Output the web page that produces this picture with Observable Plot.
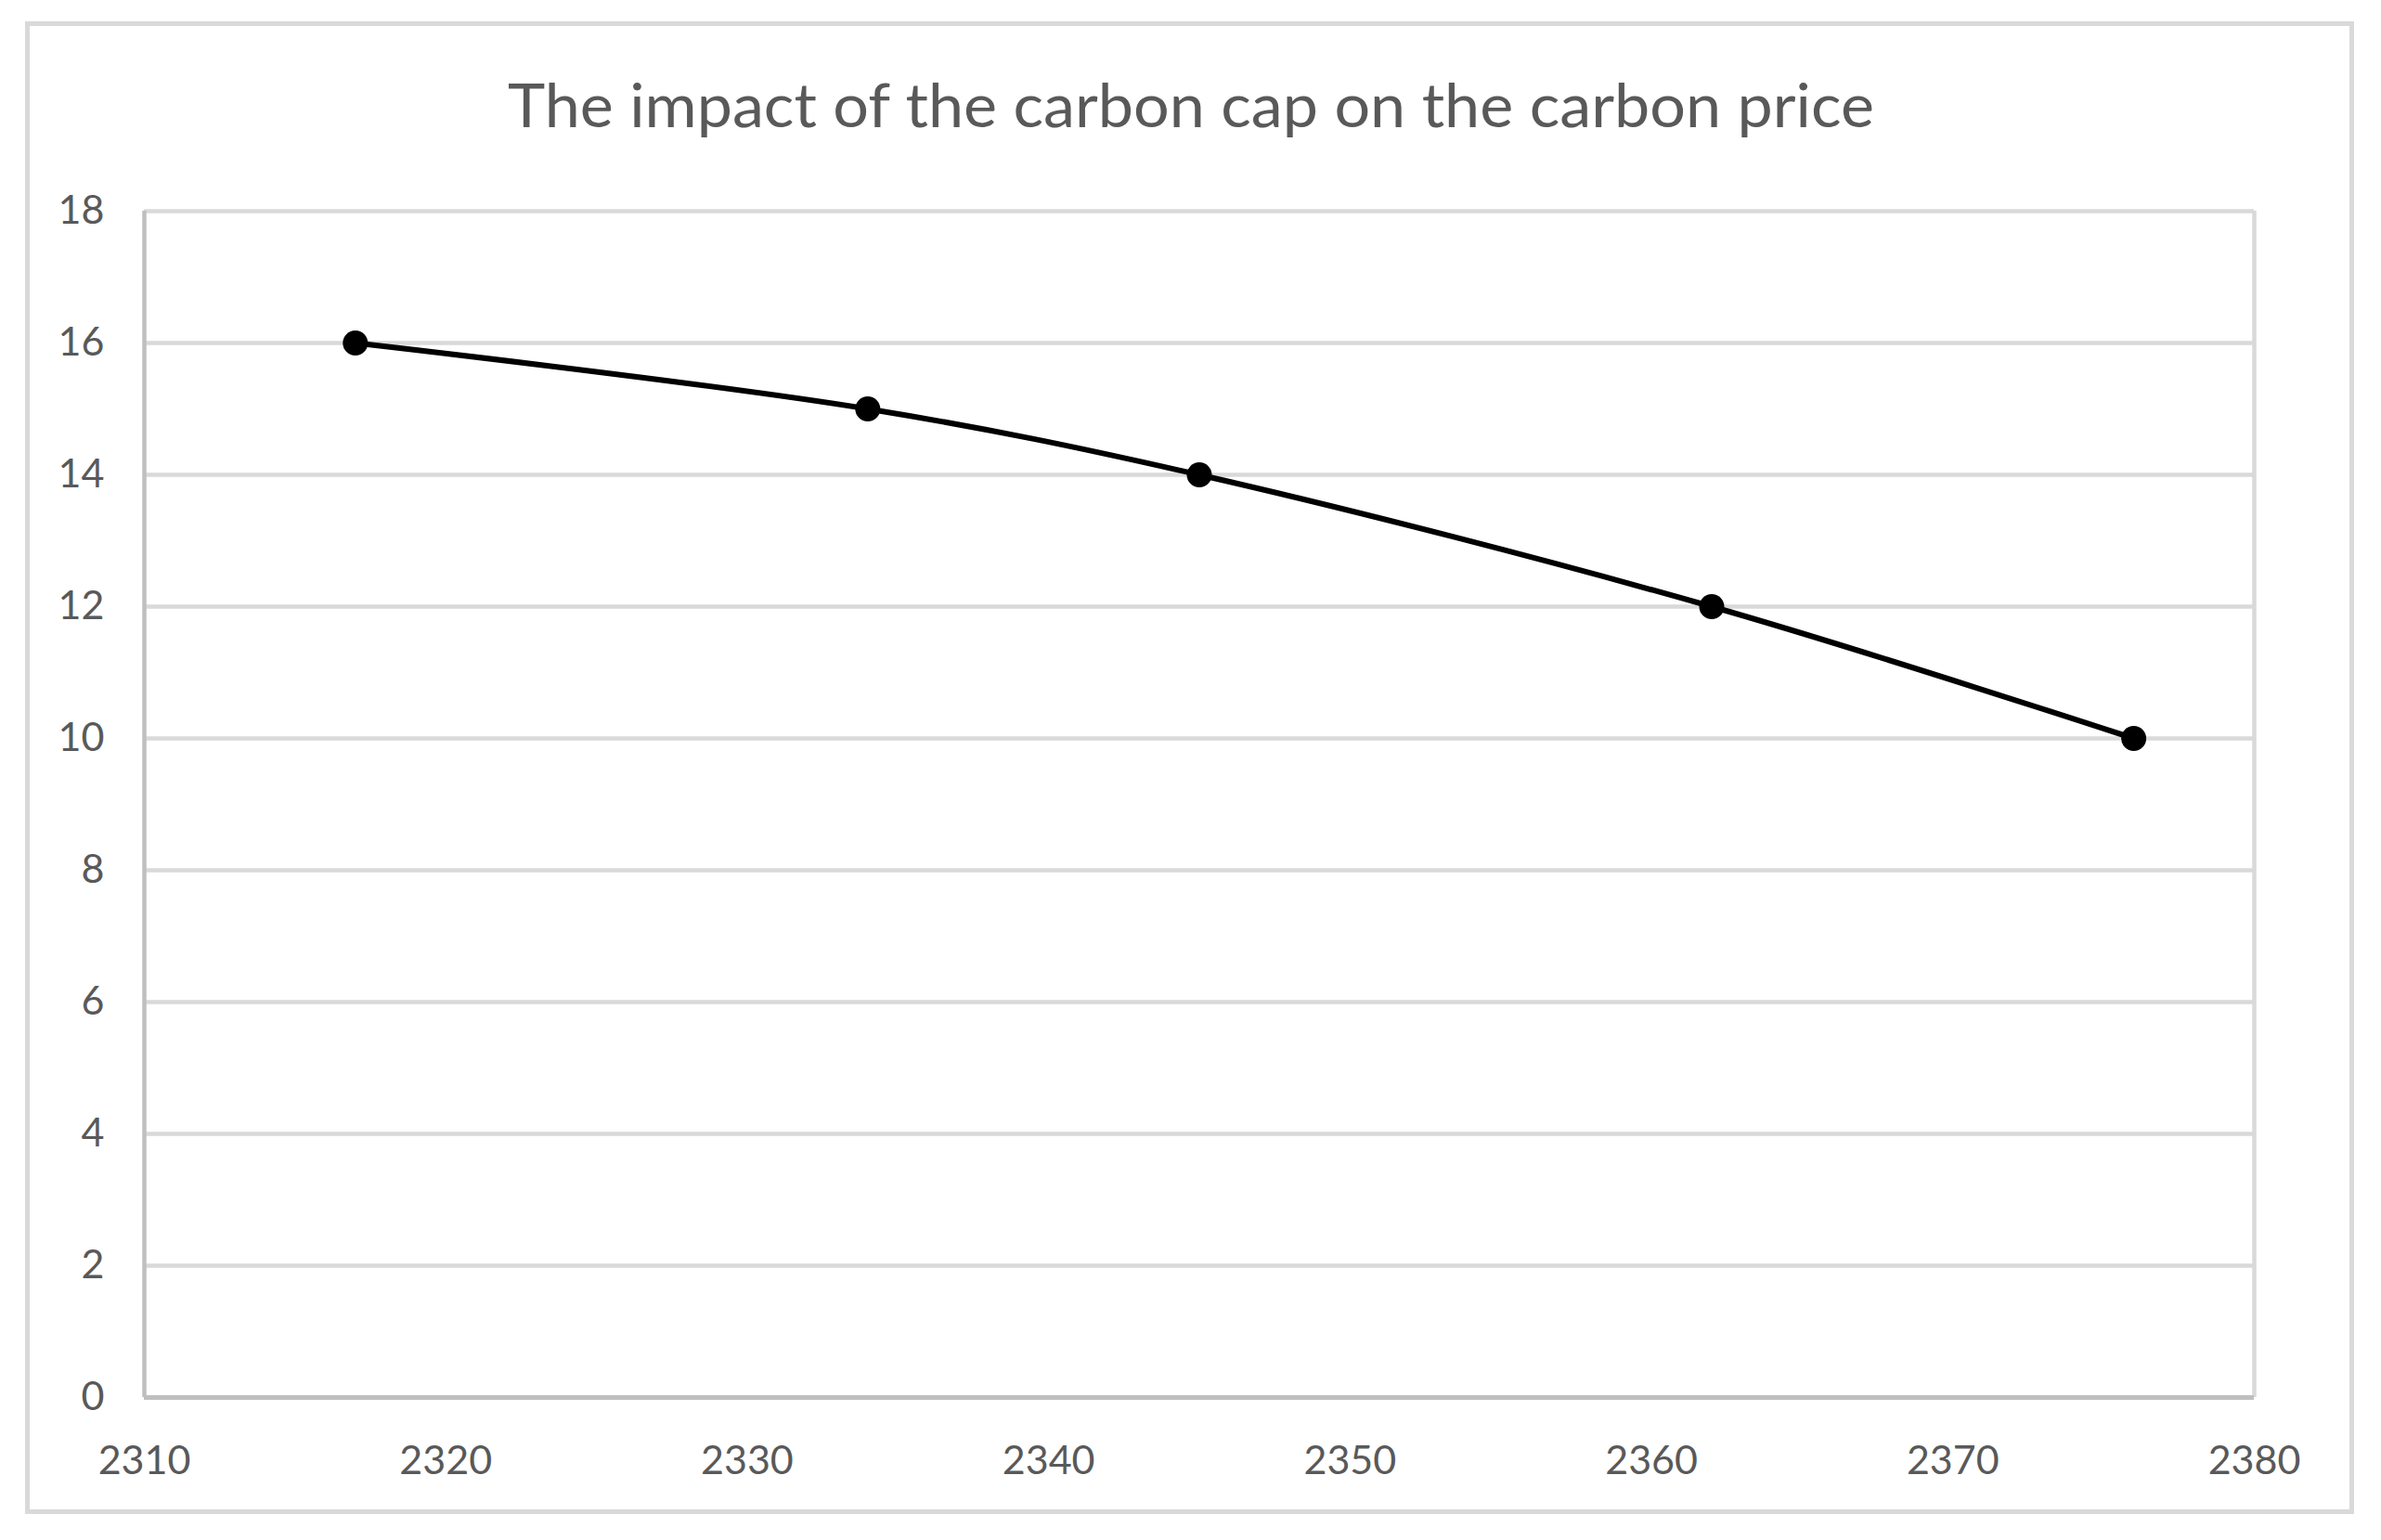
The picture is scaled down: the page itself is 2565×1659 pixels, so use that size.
<!DOCTYPE html>
<html>
<head>
<meta charset="utf-8">
<script src="https://cdn.jsdelivr.net/npm/d3@7"></script>
<script src="https://cdn.jsdelivr.net/npm/@observablehq/plot@0.6"></script>
<style>
  html, body { margin: 0; padding: 0; background: #ffffff; }
  #page { position: relative; width: 2565px; height: 1659px; background: #ffffff; overflow: hidden; }
  #border { position: absolute; left: 26.5px; top: 22.5px; width: 2509px; height: 1608px; box-sizing: border-box; border: 5px solid #d9d9d9; }
  #title { position: absolute; left: 0; width: 2565px; top: 79px; text-align: center; font-family: Lato, "Open Sans", sans-serif; font-weight: 400; font-size: 66px; line-height: 66px; color: #595959; white-space: nowrap; }
  #title span { display: inline-block; transform-origin: center center; }
  #chart { position: absolute; left: 0; top: 0; }
</style>
</head>
<body>
<div id="page">
  <div id="border"></div>
  <div id="title"><span id="titleText"></span></div>
  <div id="chart"></div>
</div>
<script>
const titleText = "The impact of the carbon cap on the carbon price";
const carbonCap = [2317, 2334, 2345, 2362, 2376];
const carbonPrice = [16, 15, 14, 12, 10];
const xTicks = [2310, 2320, 2330, 2340, 2350, 2360, 2370, 2380];
const yTicks = [0, 2, 4, 6, 8, 10, 12, 14, 16, 18];

const data = carbonCap.map((c, i) => ({cap: c, price: carbonPrice[i]}));

const t = document.getElementById("titleText");
t.textContent = titleText;
const targetWidth = 1472;
const w = t.getBoundingClientRect().width;
if (w > 0) t.style.transform = `scaleX(${targetWidth / w})`;

const plot = Plot.plot({
  width: 2565,
  height: 1659,
  marginLeft: 155,
  marginRight: 137,
  marginTop: 227,
  marginBottom: 154,
  style: {background: "transparent", overflow: "visible", color: "#595959", fontFamily: "Lato, 'Open Sans', sans-serif"},
  x: {domain: [2310, 2380]},
  y: {domain: [0, 18]},
  marks: [
    Plot.ruleY(yTicks.filter(d => d > 0), {stroke: "#d9d9d9", strokeWidth: 4.5}),
    Plot.ruleX([xTicks[xTicks.length - 1]], {stroke: "#d9d9d9", strokeWidth: 4.5}),
    Plot.ruleX([xTicks[0]], {stroke: "#bfbfbf", strokeWidth: 4.5}),
    Plot.ruleY([yTicks[0]], {stroke: "#bfbfbf", strokeWidth: 5}),
    Plot.axisX({ticks: xTicks, tickSize: 0, tickPadding: 52, tickFormat: d => String(d), fontSize: 43, label: null}),
    Plot.axisY({ticks: yTicks, tickSize: 0, tickPadding: 43, tickFormat: d => String(d), fontSize: 43, label: null}),
    Plot.line(data, {x: "cap", y: "price", curve: "catmull-rom", stroke: "#000000", strokeWidth: 6}),
    Plot.dot(data, {x: "cap", y: "price", r: 13.5, fill: "#000000", stroke: "none"})
  ]
});
document.getElementById("chart").appendChild(plot);
</script>
</body>
</html>
